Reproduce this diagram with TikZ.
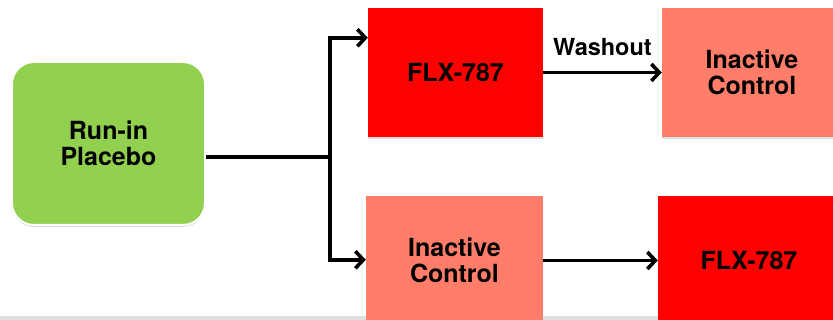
\documentclass[tikz,border=0pt]{standalone}
\usepackage{fontspec}
\setmainfont{TeX Gyre Heros}
\usepackage{tikz}
\usepackage{xcolor}
\usetikzlibrary{positioning, arrows.meta, shadows}
\definecolor{runin}{RGB}{146,208,80}
\definecolor{drug}{RGB}{255,0,0}
\definecolor{ctrl}{RGB}{255,125,105}
\tikzset{
  lbl/.style={font=\bfseries\fontsize{25}{25.5}\selectfont, align=center},
  runbox/.style={lbl, fill=runin, draw=white, line width=2pt, rounded corners=22pt,
    minimum width=193pt, minimum height=163pt, inner sep=0pt,
    drop shadow={shadow xshift=0pt, shadow yshift=-2pt, opacity=0.3}},
  arm/.style={lbl, minimum width=175pt, minimum height=129pt, inner sep=0pt,
    drop shadow={shadow xshift=0pt, shadow yshift=-2pt, opacity=0.25}},
  flow/.style={line width=3.6pt, -{Straight Barb[length=8pt,width=17pt]}},
  wash/.style={font=\bfseries\fontsize{23.5}{24}\selectfont},
}

\begin{document}
\begin{tikzpicture}[x=1pt,y=-1pt]
\clip (0,0) rectangle (833,320);
\fill[black!12] (0,316) rectangle (833,320); %bottom strip

\node[runbox] (run) at (108.5,143.5) {Run-in\\Placebo};
\node[arm, fill=drug] (flxA) at (455.5,72.5) {FLX-787};
\node[arm, fill=ctrl, minimum width=180pt] (inacA) at (752,72.5) {Inactive\\Control};
\node[arm, fill=ctrl, minimum width=177pt] (inacB) at (454.5,260.5) {Inactive\\Control};
\node[arm, fill=drug, minimum width=182pt] (flxB) at (749,260.5) {FLX-787};

\coordinate (split) at (330,157);
\draw[line width=3.6pt] (run.east |- split) -- (split);
\draw[flow] (split) |- ([yshift=-30pt]flxA.north west);
\draw[flow] (split) |- ([yshift=-64pt]inacB.north west);
\draw[flow] (flxA) -- node[above=12pt, wash] {Washout} (inacA);
\draw[flow] (inacB) -- (flxB);
\end{tikzpicture}
\end{document}
